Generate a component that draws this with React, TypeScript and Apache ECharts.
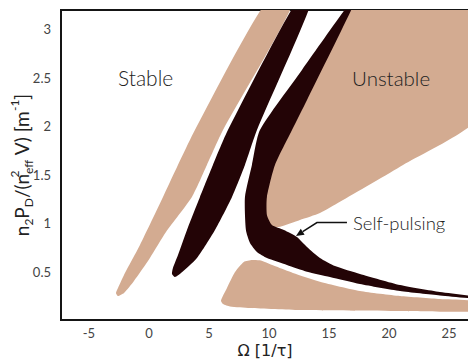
import React, { useEffect, useRef } from "react";
import * as echarts from "echarts";

// axis ticks
const xTicks = [-5, 0, 5, 10, 15, 20, 25];
const yTicks = [0.5, 1, 1.5, 2, 2.5, 3];

// region boundaries [Omega, power]
const tanStripe: number[][] = [
  [9.87, 3.3], [3.83, 1.961], [1.17, 1.27], [-0.75, 0.774], [-2.08, 0.465], [-2.58, 0.33],
  [-2.75, 0.279], [-2.58, 0.248], [-2.08, 0.279], [-1.25, 0.403], [0.08, 0.64],
  [1.42, 0.908], [3.58, 1.27], [4.83, 1.6], [6.17, 1.961], [12.11, 3.3],
];
const darkStripe: number[][] = [
  [12.35, 3.3], [6.58, 1.961], [5.33, 1.6], [4.25, 1.27], [3.17, 0.929], [2.42, 0.671],
  [2.0, 0.537], [1.92, 0.475], [2.17, 0.444], [2.67, 0.485], [4.0, 0.64], [5.5, 0.929],
  [6.92, 1.27], [8.0, 1.6], [9.0, 1.961], [13.59, 3.3],
];
const unstableRegion: number[][] = [
  [17.08, 3.3], [27.6, 3.3], [27.6, 2.11], [21.17, 1.6], [15.92, 1.22], [14.25, 1.104],
  [12.58, 1.032], [10.92, 0.963], [10.08, 0.96], [9.67, 1.084], [9.67, 1.27],
  [10.33, 1.6], [11.75, 1.961], [13.0, 2.271],
];
const selfPulsingBand: number[][] = [
  [16.9, 3.3], [12.75, 2.581], [9.25, 1.961], [8.58, 1.6], [8.0, 1.27], [8.08, 0.929],
  [8.42, 0.795], [9.0, 0.702], [9.83, 0.64], [11.5, 0.568], [13.17, 0.499],
  [15.08, 0.444], [17.58, 0.372], [20.92, 0.299], [24.25, 0.253], [27.58, 0.217],
  [27.58, 0.237], [24.25, 0.289], [20.92, 0.361], [17.58, 0.475], [15.5, 0.557],
  [14.25, 0.64], [13.17, 0.754], [12.33, 0.857], [11.25, 0.929], [10.25, 0.98],
  [9.83, 1.084], [9.83, 1.27], [10.5, 1.6], [11.92, 1.961], [13.17, 2.271], [17.23, 3.3],
];
const lowerRegion: number[][] = [
  [6.0, 0.2], [6.5, 0.33], [7.17, 0.495], [7.9, 0.6], [8.6, 0.62], [9.33, 0.615],
  [10.6, 0.551], [12.0, 0.485], [14.25, 0.396], [17.58, 0.3], [20.92, 0.248],
  [24.25, 0.217], [27.6, 0.19], [27.6, 0.093], [20.92, 0.093], [12.58, 0.103],
  [8.42, 0.124], [6.75, 0.14], [6.17, 0.165],
];
const arrowPath: number[][] = [[16.5, 1.006], [14.0, 1.006], [12.25, 0.867]];

const TAN = "#d3ab91";
const DARK = "#230406";

function region(pts: number[][], color: string) {
  return {
    type: "custom",
    clip: true,
    silent: true,
    data: [[0, 0]],
    renderItem: (_p: any, api: any) => ({
      type: "polygon",
      shape: { points: pts.map((p) => api.coord(p)), smooth: 0.2 },
      style: { fill: color },
    }),
  };
}

export default function App() {
  const ref = useRef<HTMLDivElement>(null);
  useEffect(() => {
    const chart = echarts.init(ref.current!, null, { renderer: "svg" });
    const labelFont = "Lato";
    chart.setOption({
      animation: false,
      backgroundColor: "#fff",
      grid: {
        left: 61, right: -1, top: 10, bottom: 40, show: true,
        borderColor: "#151515", borderWidth: 2, containLabel: false, outerBoundsMode: "none",
      },
      xAxis: {
        type: "value", min: -7.33, max: 26.67,
        axisLine: { show: false }, axisTick: { show: false }, splitLine: { show: false },
        axisLabel: { customValues: xTicks, margin: 6, fontSize: 13, color: "#444", fontFamily: labelFont },
        name: "Ω [1/τ]", nameLocation: "middle", nameGap: 22, nameMoveOverlap: false,
        nameTextStyle: { fontSize: 16, color: "#222", fontFamily: "DejaVu Sans" },
      },
      yAxis: {
        type: "value", min: 0, max: 3.2,
        axisLine: { show: false }, axisTick: { show: false }, splitLine: { show: false },
        axisLabel: { customValues: yTicks, margin: 10, fontSize: 13, color: "#444", fontFamily: labelFont },
        name: "{m|n}{sub|2}{m|P}{sub|D}{m|/(n}{sup0|2}{sub|eff}{m| V) [m}{sup|-1}{m|]}",
        nameLocation: "middle", nameGap: 27, nameRotate: 90, nameMoveOverlap: false,
        nameTextStyle: {
          color: "#222", fontFamily: labelFont,
          rich: {
            m: { fontSize: 19, lineHeight: 26, fontFamily: labelFont, color: "#222" },
            sub: { fontSize: 12, lineHeight: 12, verticalAlign: "bottom", fontFamily: labelFont, color: "#222" },
            sup: { fontSize: 12, lineHeight: 12, verticalAlign: "top", fontFamily: labelFont, color: "#222" },
            sup0: { fontSize: 12, lineHeight: 12, width: 0, verticalAlign: "top", fontFamily: labelFont, color: "#222" },
          },
        },
      },
      graphic: [
        { type: "text", z: 100, left: 118, top: 67, style: { text: "Stable", fontSize: 21, fontFamily: labelFont, fontWeight: 300, fill: "#222" } },
        { type: "text", z: 100, left: 352, top: 67, style: { text: "Unstable", fontSize: 20.5, fontFamily: labelFont, fontWeight: 300, fill: "#222" } },
        { type: "text", z: 100, left: 353, top: 213, style: { text: "Self-pulsing", fontSize: 18.5, fontFamily: labelFont, fontWeight: 300, fill: "#222" } },
      ],
      series: [
        region(tanStripe, TAN),
        region(unstableRegion, TAN),
        region(lowerRegion, TAN),
        region(darkStripe, DARK),
        region(selfPulsingBand, DARK),
        {
          type: "custom",
          clip: false,
          silent: true,
          data: [[0, 0]],
          renderItem: (_p: any, api: any) => {
            const pts = arrowPath.map((p) => api.coord(p));
            const tip = pts[pts.length - 1];
            const prev = pts[pts.length - 2];
            const dx = tip[0] - prev[0], dy = tip[1] - prev[1];
            const L = Math.hypot(dx, dy);
            const ux = dx / L, uy = dy / L;
            const len = 8, hw = 3.5;
            const bx = tip[0] - ux * len, by = tip[1] - uy * len;
            return {
              type: "group",
              children: [
                { type: "polyline", shape: { points: [...pts.slice(0, -1), [bx, by]] }, style: { stroke: "#111", lineWidth: 1.5, fill: null } },
                { type: "polygon", shape: { points: [tip, [bx - uy * hw, by + ux * hw], [bx + uy * hw, by - ux * hw]] }, style: { fill: "#111" } },
              ],
            };
          },
        },
      ],
    });
    return () => chart.dispose();
  }, []);
  return <div ref={ref} style={{ width: 468, height: 360, position: "absolute", left: 0, top: 0 }} />;
}
